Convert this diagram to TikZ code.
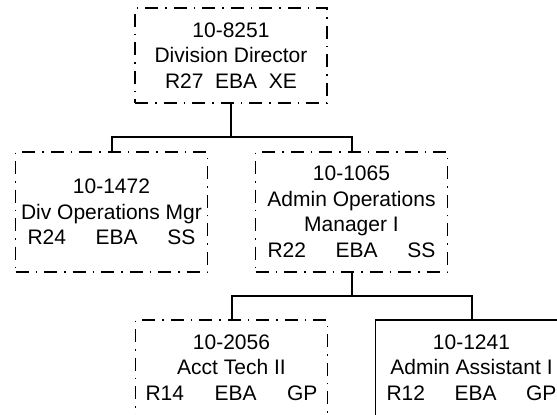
\documentclass[tikz,border=0pt]{standalone}
\usepackage{fontspec}
\setmainfont{Liberation Sans}
\usepackage{tikz}
\newcommand{\gradeline}[4]{\makebox[#1]{#2\hfill #3\hfill #4}}
\tikzstyle{post} = [rectangle, minimum width=192pt, minimum height=120pt, inner sep=0pt, align=center, font=\fontsize{21pt}{25.5pt}\selectfont, draw=black, line width=1.8pt]
\tikzstyle{openpost} = [post, dash pattern=on 13pt off 7pt on 1.5pt off 7pt]
\tikzstyle{connector} = [line width=2pt, black]

\begin{document}
\begin{tikzpicture}[node distance=240pt]
		\useasboundingbox (0pt,0pt) rectangle (557pt,-415pt);
		\clip (0pt,0pt) rectangle (557pt,-415pt);
		\node (director) [openpost, minimum height=95pt] at (231pt,-55.5pt) {10-8251\\Division Director\\\gradeline{132pt}{R27}{EBA}{XE}};
		\node (divopsmgr) [openpost, below of=director, xshift=-119.5pt, yshift=83.5pt] {10-1472\\Div Operations Mgr\\\gradeline{168pt}{R24}{EBA}{SS}};
		\node (adminopsmgr) [openpost, right of=divopsmgr] {10-1065\\Admin Operations\\Manager I\\\gradeline{168pt}{R22}{EBA}{SS}};
		\node (accttech) [openpost, below of=adminopsmgr, xshift=-120pt, yshift=72pt, text depth=25.5pt] {10-2056\\Acct Tech II\\\gradeline{172pt}{R14}{EBA}{GP}};
		\node (adminasst) [post, right of=accttech, text depth=25.5pt] {10-1241\\Admin Assistant I\\\gradeline{170pt}{R12}{EBA}{GP}};
		
		\draw [connector] (director) -- +(0,-81.5pt) -| (divopsmgr);
		\draw [connector] (director) -- +(0,-81.5pt) -| (adminopsmgr);
		\draw [connector] (adminopsmgr) -- +(0,-84pt) -| (accttech);
		\draw [connector] (adminopsmgr) -- +(0,-84pt) -| (adminasst);
	\end{tikzpicture}
\end{document}
